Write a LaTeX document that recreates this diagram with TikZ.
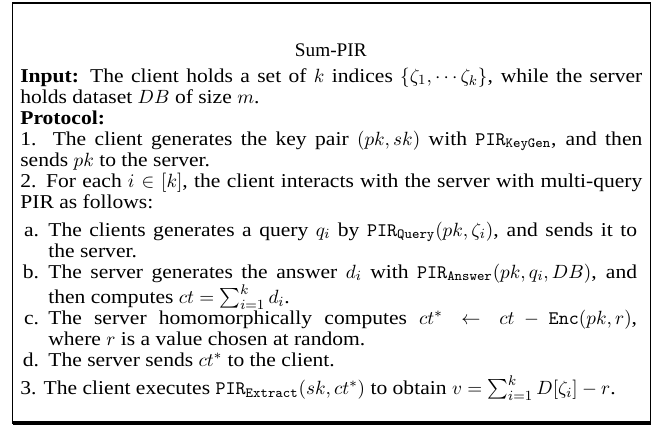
\documentclass[tikz,border=0pt]{standalone}
\usepackage{amsmath,amssymb}
\usepackage[no-math]{fontspec}
\setmainfont{Liberation Serif}
\newfontfamily\widefont[FakeStretch=1.1]{Liberation Serif}
\usepackage{tikz}
\setlength{\parindent}{0pt}
\tikzset{%
    boxtext/.style={inner sep=0pt, align=justify, text width=355.4pt,
        font=\widefont\fontsize{11.2pt}{12pt}\selectfont},
    titletext/.style={inner sep=0pt, font=\fontsize{11pt}{12pt}\selectfont}
}
\newcommand{\pirop}[1]{\mathtt{PIR}_{\mathtt{#1}}}
\newenvironment{pirsteps}{%
    \begin{list}{}{\setlength\leftmargin{16pt}\setlength\labelwidth{10pt}%
        \setlength\labelsep{5.3pt}\setlength\itemsep{0pt}\setlength\parsep{0pt}%
        \setlength\topsep{4pt}\setlength\partopsep{0pt}\setlength\rightmargin{3pt}}}%
    {\end{list}}

\begin{document}
\begin{tikzpicture}
    \useasboundingbox (0,0) rectangle (377.1pt,-246.3pt);
%-----------------------------------------------
    \draw[line width=0.6pt] (7.26pt,-1.54pt) rectangle (371.8pt,-241.7pt);
    \draw[line width=1.2pt] (7.26pt,-1.54pt) -- (371.8pt,-1.54pt);
    \draw[line width=1.8pt] (7.26pt,-241.7pt) -- (371.8pt,-241.7pt);
%-----------------------------------------------
    \node[titletext, anchor=base] (title) at (189pt,-32pt) {Sum-PIR};
    \node[boxtext, anchor=base west] (body) at (11.43pt,-46.9pt) {%
        \textbf{Input:} The client holds a set of $k$ indices $\{\zeta_1,\cdots\zeta_k\}$, while the server\linebreak
        holds dataset $DB$ of size $m$.\par
        \textbf{Protocol:}\par
        1. The client generates the key pair $(pk,sk)$ with $\pirop{KeyGen}$, and then\linebreak
        sends $pk$ to the server.\par
        2. For each $i\in[k]$, the client interacts with the server with multi-query\linebreak
        PIR as follows:
        \begin{pirsteps}
            \item[a.] The clients generates a query $q_i$ by $\pirop{Query}(pk,\zeta_i)$, and sends it to\linebreak
            the server.
            \item[b.] The server generates the answer $d_i$ with $\pirop{Answer}(pk,q_i,DB)$, and\linebreak
            then computes $ct=\sum_{i=1}^{k} d_i$.
            \item[c.] The server homomorphically computes $ct^*\leftarrow ct-\mathtt{Enc}(pk,r)$,\linebreak
            where $r$ is a value chosen at random.
            \item[d.] The server sends $ct^*$ to the client.
        \end{pirsteps}
        3. The client executes $\pirop{Extract}(sk,ct^*)$ to obtain $v=\sum_{i=1}^{k} D[\zeta_i]-r$.\par
    };
\end{tikzpicture}
\end{document}
